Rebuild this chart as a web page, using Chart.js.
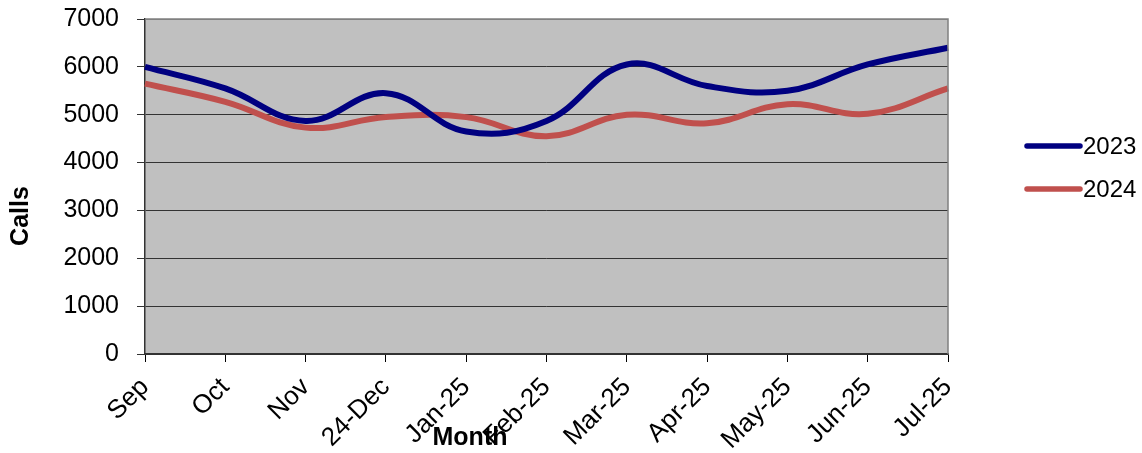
<!DOCTYPE html>
<html>
<head>
<meta charset="utf-8">
<script src="https://cdn.jsdelivr.net/npm/chart.js@4.4.1/dist/chart.umd.min.js"></script>
<style>
  html, body { margin: 0; padding: 0; background: #ffffff; }
  #wrap { position: relative; width: 1142px; height: 453px; }
</style>
</head>
<body>
<div id="wrap"><canvas id="c"></canvas></div>
<script>
const months = ['Sep', 'Oct', 'Nov', '24-Dec', 'Jan-25', 'Feb-25', 'Mar-25', 'Apr-25', 'May-25', 'Jun-25', 'Jul-25'];
const calls2023 = [6000, 5550, 4870, 5450, 4650, 4870, 6050, 5600, 5500, 6050, 6400];
const calls2024 = [5650, 5270, 4730, 4950, 4950, 4550, 5000, 4820, 5220, 5020, 5550];
const seriesNames = ['2023', '2024'];
const yTicks = [0, 1000, 2000, 3000, 4000, 5000, 6000, 7000];
const xTitle = 'Month';
const yTitle = 'Calls';

const FONT = '"Liberation Sans", Arial, sans-serif';

const plotBg = {
  id: 'plotBg',
  beforeDraw(chart) {
    const { ctx, chartArea: a } = chart;
    ctx.save();
    ctx.fillStyle = '#c0c0c0';
    ctx.fillRect(a.left, a.top, a.right - a.left, a.bottom - a.top);
    ctx.restore();
  },
  afterDatasetsDraw(chart) {
    const { ctx, chartArea: a } = chart;
    ctx.save();
    ctx.strokeStyle = '#808080';
    ctx.lineWidth = 1.5;
    ctx.beginPath();
    ctx.moveTo(a.left, a.top);
    ctx.lineTo(a.right, a.top);
    ctx.lineTo(a.right, a.bottom);
    ctx.stroke();
    ctx.restore();
  }
};

const extras = {
  id: 'extras',
  afterDraw(chart) {
    const { ctx } = chart;
    ctx.save();
    // legend
    ctx.font = '24px ' + FONT;
    ctx.textBaseline = 'middle';
    ctx.textAlign = 'left';
    const ys = [146, 189];
    chart.data.datasets.forEach((ds, i) => {
      ctx.strokeStyle = ds.borderColor;
      ctx.lineWidth = 5.5;
      ctx.lineCap = 'round';
      ctx.beginPath();
      ctx.moveTo(1027, ys[i]);
      ctx.lineTo(1080, ys[i]);
      ctx.stroke();
      ctx.fillStyle = '#000000';
      ctx.fillText(ds.label, 1083, ys[i] + 1);
    });
    // axis titles
    ctx.font = 'bold 25px ' + FONT;
    ctx.fillStyle = '#000000';
    ctx.textAlign = 'center';
    ctx.fillText(xTitle, 470, 438);
    ctx.translate(21, 216);
    ctx.rotate(-Math.PI / 2);
    ctx.fillText(yTitle, 0, 0);
    ctx.restore();
  }
};

new Chart(document.getElementById('c'), {
  type: 'line',
  data: {
    labels: months,
    datasets: [
      { label: seriesNames[0], data: calls2023, borderColor: '#000080', backgroundColor: '#000080',
        borderWidth: 6, tension: 0.4, pointRadius: 0, fill: false },
      { label: seriesNames[1], data: calls2024, borderColor: '#c0504d', backgroundColor: '#c0504d',
        borderWidth: 6, tension: 0.4, pointRadius: 0, fill: false }
    ]
  },
  options: {
    responsive: true,
    maintainAspectRatio: false,
    animation: false,
    layout: { padding: { left: 0, right: 194, top: 19, bottom: 0 } },
    plugins: { legend: { display: false }, tooltip: { enabled: false } },
    scales: {
      x: {
        offset: false,
        grid: { display: true, drawOnChartArea: false, drawTicks: true, tickLength: 8, color: '#000000' },
        border: { color: '#333333', width: 1.5 },
        ticks: { color: '#000000', font: { family: FONT, size: 26 }, maxRotation: 45, minRotation: 45, padding: 10, autoSkip: false },
        afterFit(s) { s.height = 99; s.paddingLeft = 0; s.paddingRight = 0; }
      },
      y: {
        min: 0, max: 7000,
        afterBuildTicks(s) { s.ticks = yTicks.map(v => ({ value: v })); },
        grid: { color: (c) => c.tick && c.tick.value === 7000 ? '#808080' : '#333333', lineWidth: 1, tickLength: 8, tickColor: '#333333' },
        border: { color: '#333333', width: 1.5 },
        ticks: { color: '#000000', font: { family: FONT, size: 25 }, padding: 18, callback: (v) => String(v) },
        afterFit(s) { s.width = 145; s.paddingTop = 0; s.paddingBottom = 0; }
      }
    }
  },
  plugins: [plotBg, extras]
});
</script>
</body>
</html>
